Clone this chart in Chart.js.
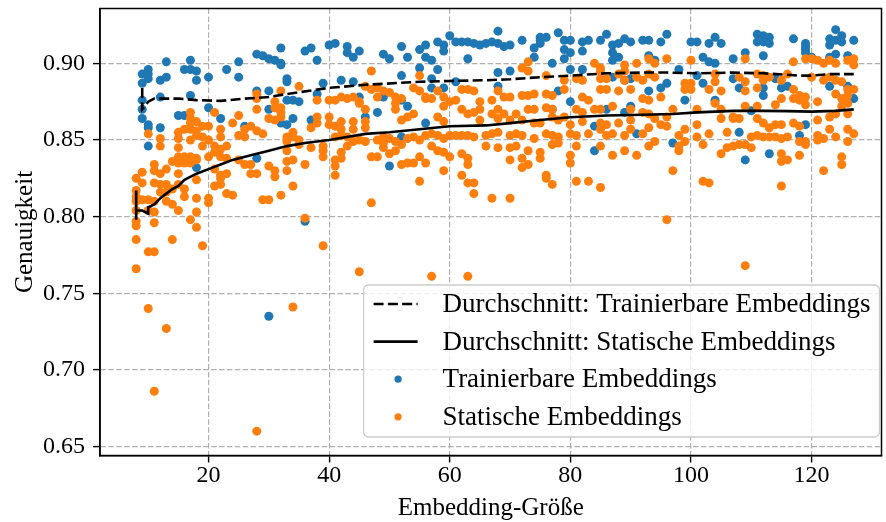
<!DOCTYPE html>
<html>
<head>
<meta charset="utf-8">
<script src="https://cdn.jsdelivr.net/npm/chart.js@4.4.1/dist/chart.umd.min.js"></script>
<style>
html,body{margin:0;padding:0;background:#fff;}
canvas{display:block;}
</style>
</head>
<body>
<canvas id="c" width="886" height="522"></canvas>
<script>
// ---- Data ----
const xTicks = [20, 40, 60, 80, 100, 120];
const yTicks = [0.65, 0.70, 0.75, 0.80, 0.85, 0.90];

const seriesLabels = [
  'Durchschnitt: Trainierbare Embeddings',
  'Durchschnitt: Statische Embeddings',
  'Trainierbare Embeddings',
  'Statische Embeddings'
];

// each row: [embedding size, accuracy, accuracy, ...]
const trainableByX = [
  [9,0.893,0.887,0.876,0.870,0.864],[10,0.896,0.893,0.890,0.860,0.858,0.846],
  [12,0.889,0.878,0.858],[13,0.901,0.891],[15,0.866],[16,0.896,0.866],
  [17,0.902,0.896,0.879],[18,0.895,0.889,0.832],[20,0.891,0.871],[22,0.864],
  [23,0.896],[25,0.901,0.891],[26,0.859],[28,0.906,0.882,0.838],[29,0.905],
  [30,0.903,0.882,0.870,0.735],[31,0.902],[32,0.910,0.900,0.899,0.861],
  [33,0.890,0.888,0.876,0.860],[34,0.876,0.864],[35,0.875],[36,0.908,0.797],
  [37,0.910,0.863],[38,0.902,0.880],[39,0.887],[40,0.912],[41,0.913],[42,0.889],
  [43,0.911,0.907],[44,0.904,0.888],[45,0.908,0.878],[46,0.865],[48,0.868],
  [49,0.906,0.878],[50,0.903,0.833],[52,0.911,0.892,0.876,0.852],[53,0.904,0.872],
  [55,0.909,0.897],[56,0.912,0.904,0.861],[57,0.902,0.890,0.884],[58,0.914,0.896],
  [59,0.912,0.908,0.884],[60,0.918],[61,0.914,0.888],[62,0.914],[63,0.914,0.903],
  [64,0.913],[65,0.912],[66,0.913],[67,0.914],[68,0.921,0.913,0.894,0.885],[69,0.911],
  [70,0.912,0.895],[72,0.915],[74,0.910,0.904],[75,0.917,0.915,0.913],[76,0.917],
  [77,0.900,0.870],[78,0.920,0.882],[79,0.915,0.909,0.903],[80,0.915,0.907,0.896,0.875],
  [82,0.914,0.908,0.896],[83,0.915],[84,0.859,0.843],[85,0.915],[86,0.919,0.870],
  [87,0.912,0.907,0.902,0.891],[88,0.913,0.904],[89,0.916,0.889,0.868],
  [90,0.914,0.890,0.872],[91,0.854],[92,0.915],[93,0.915,0.905,0.882],[94,0.902],
  [95,0.914,0.884],[96,0.919,0.887],[97,0.848],[98,0.896],[99,0.876],[100,0.914],
  [101,0.914,0.892],[102,0.904,0.887],[103,0.913,0.901],[104,0.917,0.900,0.876],
  [105,0.913],[107,0.903,0.890],[108,0.884,0.855],[109,0.907,0.837],[110,0.869],
  [111,0.919,0.914],[112,0.918,0.914,0.905,0.884,0.879],[113,0.917,0.913,0.841],
  [114,0.890],[115,0.884],[116,0.885],[117,0.916],[118,0.853],
  [119,0.913,0.911,0.909,0.907,0.860],[120,0.904],[123,0.916,0.912,0.904,0.885],
  [124,0.922,0.915,0.906],[125,0.918,0.914],[126,0.905,0.885],[127,0.915,0.877]
];

const staticByX = [
  [8,0.825,0.817,0.813,0.810,0.804,0.797,0.794,0.785,0.766],[9,0.829,0.822,0.811],
  [10,0.854,0.811,0.804,0.777,0.740],[11,0.834,0.830,0.822,0.810,0.803,0.796,0.777,0.686],
  [12,0.851,0.846,0.828,0.821,0.816],[13,0.831,0.821,0.816,0.810,0.727],[14,0.836,0.818,0.808,0.785],
  [15,0.855,0.851,0.845,0.839,0.835,0.828,0.821,0.804],[16,0.857,0.839,0.835,0.818,0.813],
  [17,0.868,0.864,0.861,0.857,0.850,0.839,0.835,0.798],[18,0.862,0.856,0.853,0.838,0.837,0.824,0.812,0.803,0.793],
  [19,0.859,0.852,0.846,0.781],[20,0.859,0.850,0.839,0.812,0.809],[21,0.868,0.846,0.842,0.831,0.820],
  [22,0.857,0.852,0.844,0.839,0.827,0.825,0.821],[23,0.846,0.838,0.828,0.815],[24,0.861,0.814],
  [25,0.866,0.853,0.837],[26,0.857,0.852,0.834],[27,0.859,0.834,0.828],[28,0.880,0.877,0.870,0.856,0.828,0.660],
  [29,0.854,0.811],[30,0.864,0.833,0.811],[31,0.875,0.871,0.863,0.830,0.826],
  [32,0.882,0.871,0.868,0.865,0.814],[33,0.852,0.849,0.843,0.836,0.830],
  [34,0.855,0.852,0.837,0.820,0.741],[35,0.885,0.850,0.847],[36,0.834,0.799],[37,0.858,0.845],
  [38,0.876,0.865,0.861],[39,0.846,0.843,0.839,0.781],[40,0.876,0.865,0.860],
  [41,0.876,0.859,0.852,0.837,0.833,0.827],[42,0.878,0.862,0.857,0.853,0.842,0.838],
  [43,0.877,0.852,0.846],[44,0.878,0.862,0.857,0.849],[45,0.875,0.874,0.850,0.764],
  [46,0.885,0.870,0.862,0.858,0.849],[47,0.895,0.883,0.839,0.809],[48,0.884,0.878,0.850,0.839],
  [49,0.882,0.852,0.848,0.845],[50,0.881,0.851,0.841],[51,0.878,0.874,0.870,0.849,0.843],
  [52,0.877,0.863,0.847,0.834],[53,0.865,0.851,0.835],[54,0.884,0.867,0.852,0.835],
  [55,0.892,0.882,0.850,0.839,0.823],[56,0.878,0.877,0.853,0.835],[57,0.877,0.854,0.846,0.761],
  [58,0.882,0.865,0.853,0.843],[59,0.878,0.872,0.862,0.851,0.842,0.830],[60,0.875,0.853,0.839],
  [61,0.876,0.853],[62,0.883,0.870,0.853,0.841,0.827],[63,0.883,0.867,0.853,0.838,0.834,0.822,0.761],
  [64,0.882,0.868,0.852,0.822,0.815],[65,0.875,0.870,0.863],[66,0.853,0.846],
  [67,0.876,0.867,0.854,0.812],[68,0.882,0.870,0.864,0.855,0.845],[69,0.878,0.867],
  [70,0.878,0.863,0.853,0.845,0.837,0.812],[71,0.867,0.854,0.846],
  [72,0.897,0.879,0.863,0.853,0.838,0.832],[73,0.901,0.895,0.879,0.870,0.843,0.834],
  [74,0.880,0.870,0.861,0.851],[75,0.861,0.842,0.838],[76,0.892,0.880,0.871,0.854,0.827,0.825],
  [77,0.879,0.870,0.865,0.853,0.847,0.821],[78,0.863,0.852,0.848],[79,0.889,0.883,0.865],
  [80,0.860,0.854,0.840,0.835],[81,0.890,0.870,0.853,0.846,0.823],[82,0.889,0.878,0.868,0.862],
  [83,0.876,0.854,0.823],[84,0.900,0.870],[85,0.897,0.895,0.890,0.883,0.870,0.861,0.857,0.846,0.819],
  [86,0.890,0.883,0.860,0.853],[87,0.872,0.854,0.840],[88,0.893,0.882,0.861],
  [89,0.899,0.895,0.889,0.853,0.843],[90,0.883,0.870,0.863,0.857],[91,0.900,0.891,0.840],
  [92,0.889,0.877,0.868,0.854],[93,0.903,0.893,0.876,0.867,0.858,0.846],[94,0.900,0.891,0.864,0.849],
  [95,0.878,0.860],[96,0.903,0.865,0.859,0.798],[97,0.870,0.830],[98,0.853,0.846,0.843],
  [99,0.887,0.883,0.857,0.849],[100,0.902,0.887,0.883],[101,0.870,0.860,0.852],[102,0.847,0.823],
  [103,0.883,0.854,0.822],[104,0.893,0.888,0.874],[105,0.882,0.870,0.864,0.841],[106,0.855,0.845],
  [107,0.865,0.864,0.846],[108,0.891,0.864,0.847],[109,0.903,0.888,0.882,0.872,0.847,0.768],
  [110,0.852,0.845],[111,0.893,0.884,0.872,0.864,0.853],[112,0.892,0.889,0.861,0.852],
  [113,0.891,0.858,0.852],[114,0.873,0.860,0.852],[115,0.889,0.877,0.860,0.851,0.841,0.836,0.820],
  [116,0.893,0.852,0.837],[117,0.901,0.883,0.877,0.861],[118,0.879,0.876,0.859,0.849,0.840],
  [119,0.903,0.878,0.873,0.849,0.847],[120,0.903,0.891],[121,0.902,0.875,0.863,0.853,0.850],
  [122,0.900,0.889,0.851,0.830],[123,0.902,0.891,0.865,0.857],[124,0.900,0.889,0.880,0.867,0.852],
  [125,0.888,0.877,0.872,0.839,0.834],[126,0.902,0.883,0.879,0.874,0.867,0.857,0.849],
  [127,0.903,0.899,0.883,0.854]
];

// running averages
const avgTrainable = [
  [9,0.884],[9,0.870],[10,0.875],[11,0.877],[15,0.877],[18,0.876],[22,0.8755],[26,0.877],
  [30,0.878],[33,0.880],[40,0.884],[46,0.886],[55,0.888],[60,0.8885],[66,0.889],[70,0.8896],
  [75,0.891],[80,0.892],[86,0.8935],[92,0.894],[96,0.894],[101,0.8935],[107,0.894],
  [112,0.8935],[118,0.892],[120,0.892],[123,0.893],[127,0.893]
];
const avgStatic = [
  [8,0.817],[8,0.798],[8,0.804],[9,0.804],[10,0.802],[10,0.806],[11,0.808],[12,0.812],
  [13,0.815],[14,0.818],[15,0.820],[16,0.824],[18,0.828],[20,0.831],[22,0.834],[24,0.837],
  [27,0.840],[30,0.843],[33,0.846],[36,0.848],[40,0.850],[46,0.854],[50,0.855],[55,0.857],
  [60,0.859],[66,0.8595],[70,0.861],[75,0.863],[80,0.8648],[86,0.866],[92,0.8665],[97,0.867],
  [101,0.868],[107,0.869],[112,0.869],[116,0.8688],[120,0.8685],[124,0.869],[127,0.870]
];

// ---- Chart ----
const FONT = "'Liberation Serif', 'Times New Roman', serif";
const toPts = g => g.flatMap(([x, ...ys]) => ys.map(y => ({x, y})));
const toLine = a => a.map(([x, y]) => ({x, y}));

const framePlugin = {
  id: 'frame',
  afterDatasetsDraw(chart) {
    const {ctx, chartArea: a} = chart;
    ctx.save();
    ctx.strokeStyle = '#000';
    ctx.lineWidth = 1.5;
    ctx.strokeRect(a.left, a.top, a.right - a.left, a.bottom - a.top);
    ctx.restore();
  }
};

const legendPlugin = {
  id: 'boxLegend',
  afterDraw(chart) {
    const {ctx, chartArea: a} = chart;
    const ds = chart.data.datasets;
    ctx.save();
    ctx.font = '27px ' + FONT;
    const tw = Math.max(...ds.map(d => ctx.measureText(d.label).width));
    const w = 79 + tw + 9, h = 152;
    const right = a.right - 2, bottom = a.bottom - 18.5;
    const left = right - w, top = bottom - h;
    ctx.beginPath();
    ctx.roundRect(left, top, w, h, 5);
    ctx.fillStyle = 'rgba(255,255,255,0.8)';
    ctx.fill();
    ctx.strokeStyle = '#cccccc';
    ctx.lineWidth = 1.3;
    ctx.stroke();
    ds.forEach((d, i) => {
      const y = top + 19 + i * 37.6;
      if (d.showLine) {
        ctx.beginPath();
        ctx.setLineDash(d.borderDash || []);
        ctx.strokeStyle = d.borderColor;
        ctx.lineWidth = d.borderWidth;
        ctx.moveTo(left + 10, y);
        ctx.lineTo(left + 54, y);
        ctx.stroke();
        ctx.setLineDash([]);
      } else {
        ctx.beginPath();
        ctx.fillStyle = d.backgroundColor;
        ctx.arc(left + 34.5, y, 3.6, 0, Math.PI * 2);
        ctx.fill();
      }
      ctx.fillStyle = '#000';
      ctx.textBaseline = 'middle';
      ctx.textAlign = 'left';
      ctx.fillText(d.label, left + 79, y + 1);
    });
    ctx.restore();
  }
};

const gridOpts = {color: '#b0b0b0', lineWidth: 1.2, tickLength: 7, tickColor: '#000', tickWidth: 1.4};
const borderOpts = {display: true, color: '#000', width: 1.5, dash: [5.5, 2.4]};

new Chart(document.getElementById('c'), {
  type: 'scatter',
  data: {
    datasets: [
      {label: seriesLabels[0], data: toLine(avgTrainable), showLine: true, borderColor: '#000',
       borderWidth: 2.6, borderDash: [10, 4.3], pointRadius: 0, fill: false, order: 0},
      {label: seriesLabels[1], data: toLine(avgStatic), showLine: true, borderColor: '#000',
       borderWidth: 2.6, borderDash: [], pointRadius: 0, fill: false, order: 0},
      {label: seriesLabels[2], data: toPts(trainableByX), backgroundColor: '#1f77b4',
       pointRadius: 4.5, borderWidth: 0, order: 2},
      {label: seriesLabels[3], data: toPts(staticByX), backgroundColor: '#ff7f0e',
       pointRadius: 4.5, borderWidth: 0, order: 1}
    ]
  },
  options: {
    responsive: false,
    animation: false,
    devicePixelRatio: 1,
    layout: {padding: {top: 8.5, right: 2, left: 0, bottom: 0}},
    plugins: {legend: {display: false}, tooltip: {enabled: false}},
    scales: {
      x: {
        type: 'linear', min: 2, max: 131.6,
        afterBuildTicks: s => { s.ticks = xTicks.map(v => ({value: v})); },
        afterFit: s => { s.height = 66.5; s.paddingLeft = 0; s.paddingRight = 0; },
        ticks: {font: {family: FONT, size: 24, lineHeight: 0.8}, color: '#000', padding: 3.5, maxRotation: 0,
                callback: v => String(v)},
        grid: gridOpts,
        border: borderOpts,
        title: {display: true, text: 'Embedding-Größe', color: '#000',
                font: {family: FONT, size: 25, lineHeight: 1}, padding: {top: 0, bottom: 1.5}}
      },
      y: {
        type: 'linear', min: 0.6441, max: 0.9358,
        afterBuildTicks: s => { s.ticks = yTicks.map(v => ({value: v})); },
        afterFit: s => { s.width = 100; s.paddingTop = 0; s.paddingBottom = 0; },
        ticks: {font: {family: FONT, size: 24}, color: '#000', padding: 8,
                callback: v => Number(v).toFixed(2)},
        grid: gridOpts,
        border: borderOpts,
        title: {display: true, text: 'Genauigkeit', color: '#000',
                font: {family: FONT, size: 25, lineHeight: 1}, padding: {top: 12.5, bottom: 0}}
      }
    }
  },
  plugins: [framePlugin, legendPlugin]
});
</script>
</body>
</html>
